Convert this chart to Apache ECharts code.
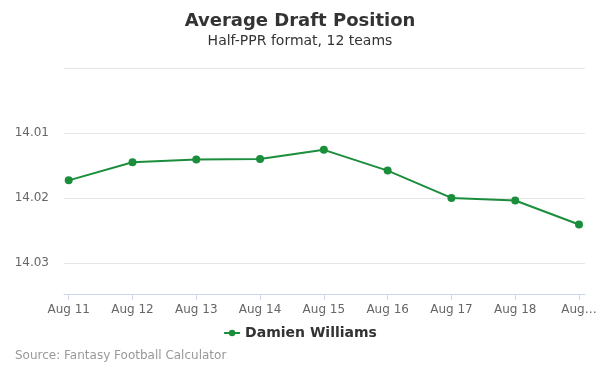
<!DOCTYPE html>
<html>
<head>
<meta charset="utf-8">
<script src="https://cdn.jsdelivr.net/npm/echarts@6/dist/echarts.min.js"></script>
<style>
  html, body { margin: 0; padding: 0; background: #fff; }
  #chart { width: 600px; height: 375px; }
</style>
</head>
<body>
<div id="chart"></div>
<script>
// 数据
const categories = ['Aug 11', 'Aug 12', 'Aug 13', 'Aug 14', 'Aug 15', 'Aug 16', 'Aug 17', 'Aug 18', 'Aug 19']
const adpValues = [14.0173, 14.0145, 14.0141, 14.0140, 14.0126, 14.0158, 14.0200, 14.0204, 14.0241]
const seriesName = 'Damien Williams'
const yTicks = [14.00, 14.01, 14.02, 14.03]

const FONT = 'DejaVu Sans'
const green = '#1b8e3c'

const chart = echarts.init(document.getElementById('chart'))

const option = {
  animation: false,
  textStyle: { fontFamily: FONT },
  title: [
    {
      text: 'Average Draft Position',
      left: 'center',
      top: 7,
      textStyle: { fontFamily: FONT, fontSize: 18, fontWeight: 'bold', color: '#333' },
    },
    {
      text: 'Half-PPR format, 12 teams',
      left: 'center',
      top: 29,
      textStyle: { fontFamily: FONT, fontSize: 14, fontWeight: 'normal', color: '#333' },
    },
    {
      text: 'Source: Fantasy Football Calculator',
      left: 10,
      top: 345,
      textStyle: { fontFamily: FONT, fontSize: 12, fontWeight: 'normal', color: '#999' },
    },
  ],
  legend: {
    top: 321,
    left: 'center',
    itemWidth: 16,
    itemHeight: 8,
    itemGap: 6,
    textStyle: { fontFamily: FONT, fontSize: 14, fontWeight: 'bold', color: '#333' },
    data: [seriesName],
  },
  // grid 0: 背景网格线, grid 1: 数据
  grid: [
    { left: 64, right: 15, top: 68, bottom: 81 },
    { left: 68.7, right: 21, top: 68, bottom: 81 },
  ],
  xAxis: [
    {
      gridIndex: 0,
      type: 'value',
      min: 0,
      max: 1,
      axisLine: { show: true, lineStyle: { color: '#ccd6eb', width: 1 } },
      axisTick: { show: false },
      axisLabel: { show: false },
      splitLine: { show: false },
    },
    {
      gridIndex: 1,
      type: 'category',
      data: categories,
      boundaryGap: false,
      axisLine: { show: false },
      axisTick: { show: true, alignWithLabel: true, length: 6, lineStyle: { color: '#ccd6eb' } },
      axisLabel: {
        color: '#666',
        fontSize: 12,
        fontFamily: FONT,
        margin: 10,
        interval: 0,
        formatter: (v, i) => (i === categories.length - 1 ? 'Aug…' : v),
      },
      splitLine: { show: false },
    },
  ],
  yAxis: [
    {
      gridIndex: 0,
      type: 'value',
      inverse: true,
      min: yTicks[0],
      max: 14.0348,
      interval: 0.01,
      axisLine: { show: false },
      axisTick: { show: false },
      axisLabel: {
        color: '#666',
        fontSize: 12,
        fontFamily: FONT,
        margin: 15,
        formatter: (v) => (Math.abs(v - yTicks[0]) < 1e-6 || v > 14.031 ? '' : v.toFixed(2)),
      },
      splitLine: { show: true, lineStyle: { color: '#e6e6e6', width: 1 } },
    },
    {
      gridIndex: 1,
      type: 'value',
      inverse: true,
      min: yTicks[0],
      max: 14.0348,
      show: false,
      splitLine: { show: false },
    },
  ],
  series: [
    {
      name: seriesName,
      type: 'line',
      xAxisIndex: 1,
      yAxisIndex: 1,
      data: adpValues,
      symbol: 'circle',
      symbolSize: 8,
      lineStyle: { color: green, width: 2 },
      itemStyle: { color: green },
    },
  ],
}

chart.setOption(option)
</script>
</body>
</html>
